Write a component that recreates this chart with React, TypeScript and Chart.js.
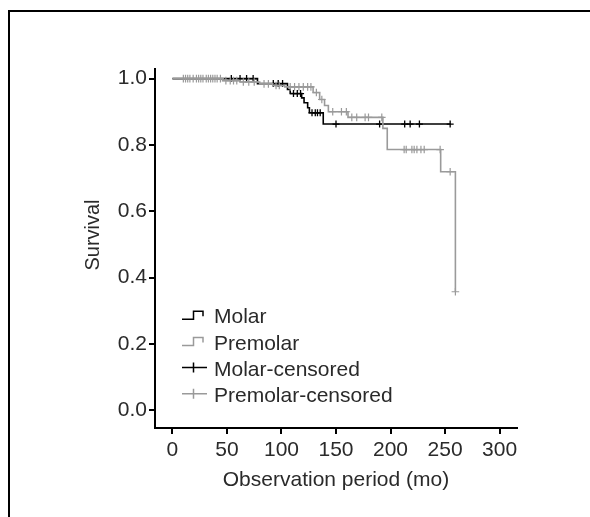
import React, { useEffect, useRef } from "react";
import Chart from "chart.js/auto";

// ---- data ----
const molarEventTimes = [0, 78, 105.5, 108, 118.5, 120.7, 124, 125.6, 138.3, 255];
const molarSurvival = [1.0, 0.985, 0.967, 0.955, 0.942, 0.927, 0.912, 0.897, 0.863, 0.863];
const molarCensored = [54, 62, 68, 74, 92.5, 97, 101, 111, 114.5, 117.5, 128, 131, 133, 135.5, 150, 190, 213, 218, 226.5, 254.7];

const premolarEventTimes = [0, 46, 62, 80, 92, 103, 129, 135, 139.5, 143, 161, 193, 197, 246, 259.5];
const premolarSurvival = [1.0, 0.994, 0.99, 0.984, 0.979, 0.975, 0.958, 0.937, 0.919, 0.9, 0.883, 0.85, 0.786, 0.719, 0.357];
const premolarCensored = [10, 12, 14, 16, 19, 22, 24, 26, 28, 31, 33, 35, 37, 39, 41, 44, 49, 53, 56, 59, 65, 70, 75, 84, 88, 95, 98, 108, 112, 116, 120, 124, 127, 132, 137, 147, 155, 159.5, 164.5, 169, 176.7, 179.8, 192, 212.5, 214.4, 219.6, 221.7, 224.2, 227.9, 230.9, 245.5, 254.7, 259.5];

const legendLabels = ["Molar", "Premolar", "Molar-censored", "Premolar-censored"];
const xTitle = "Observation period (mo)";
const yTitle = "Survival";

const BLACK = "#000000";
const GRAY = "#9a9a9a";
const TEXT = "#2a2a2a";
const FONT = "Liberation Sans, Arial, sans-serif";

function levelAt(times: number[], surv: number[], t: number) {
  let s = surv[0];
  for (let i = 0; i < times.length; i++) if (times[i] <= t) s = surv[i];
  return s;
}

const overlay = {
  id: "overlay",
  afterDraw(chart: any) {
    const ctx = chart.ctx as CanvasRenderingContext2D;
    const ca = chart.chartArea;
    ctx.save();
    // axis titles
    ctx.fillStyle = TEXT;
    ctx.font = `21px ${FONT}`;
    ctx.textAlign = "center";
    ctx.textBaseline = "middle";
    ctx.fillText(xTitle, (ca.left + ca.right) / 2, 472);
    ctx.save();
    ctx.translate(85, 227);
    ctx.rotate(-Math.PI / 2);
    ctx.font = `20px ${FONT}`;
    ctx.fillText(yTitle, 0, 0);
    ctx.restore();

    // legend
    const colors = [BLACK, GRAY, BLACK, GRAY];
    const baselines = [315.3, 341.5, 367.5, 393.7];
    const x0 = 174, x1 = 199, xm = 185.5;
    ctx.textAlign = "left";
    ctx.textBaseline = "alphabetic";
    ctx.font = `21px ${FONT}`;
    legendLabels.forEach((lab, i) => {
      const b = baselines[i];
      ctx.strokeStyle = colors[i];
      ctx.lineWidth = 1.5;
      ctx.beginPath();
      if (i < 2) {
        ctx.moveTo(x0, b - 4);
        ctx.lineTo(xm, b - 4);
        ctx.lineTo(xm, b - 12);
        ctx.lineTo(195, b - 12);
        ctx.lineTo(195, b - 7);
      } else {
        ctx.moveTo(x0, b - 8);
        ctx.lineTo(x1, b - 8);
        ctx.moveTo(xm, b - 13);
        ctx.lineTo(xm, b - 3);
      }
      ctx.stroke();
      ctx.fillStyle = TEXT;
      ctx.fillText(lab, 206, b);
    });
    ctx.restore();
  },
};

export default function App() {
  const ref = useRef<HTMLCanvasElement>(null);
  useEffect(() => {
    if (!ref.current) return;
    const lineData = (t: number[], s: number[]) => t.map((v, i) => ({ x: v, y: s[i] }));
    const censData = (c: number[], t: number[], s: number[]) => c.map((v) => ({ x: v, y: levelAt(t, s, v) }));
    const chart = new Chart(ref.current, {
      type: "scatter",
      data: {
        datasets: [
          {
            label: "Premolar",
            data: lineData(premolarEventTimes, premolarSurvival),
            showLine: true,
            stepped: true,
            borderColor: GRAY,
            borderWidth: 1.6,
            pointRadius: 0,
          },
          {
            label: "Premolar-censored",
            data: censData(premolarCensored, premolarEventTimes, premolarSurvival),
            showLine: false,
            pointStyle: "cross",
            pointRadius: 3.8,
            pointBorderWidth: 1.2,
            borderColor: GRAY,
            backgroundColor: GRAY,
          },
          {
            label: "Molar",
            data: lineData(molarEventTimes, molarSurvival),
            showLine: true,
            stepped: true,
            borderColor: BLACK,
            borderWidth: 1.6,
            pointRadius: 0,
          },
          {
            label: "Molar-censored",
            data: censData(molarCensored, molarEventTimes, molarSurvival),
            showLine: false,
            pointStyle: "cross",
            pointRadius: 3.5,
            pointBorderWidth: 1.3,
            borderColor: BLACK,
            backgroundColor: BLACK,
          },
        ],
      } as any,
      options: {
        animation: false,
        responsive: false,
        devicePixelRatio: 1,
        layout: { padding: { left: 87, top: 61, right: 73, bottom: 19 } },
        plugins: { legend: { display: false }, tooltip: { enabled: false } },
        scales: {
          x: {
            type: "linear",
            min: -16,
            max: 316,
            afterFit: (s: any) => { s.height = 62; },
            border: { display: true, color: BLACK, width: 2 },
            grid: { display: true, drawOnChartArea: false, drawTicks: true, tickLength: 6, color: BLACK, lineWidth: 2 },
            ticks: {
              stepSize: 50,
              includeBounds: false,
              autoSkip: false,
              maxRotation: 0,
              padding: 4,
              color: TEXT,
              font: { family: FONT, size: 21 },
              callback: (v: any) => String(v),
            },
          },
          y: {
            type: "linear",
            min: -0.054,
            max: 1.029,
            afterFit: (s: any) => { s.width = 60; },
            border: { display: true, color: BLACK, width: 2 },
            grid: { display: true, drawOnChartArea: false, drawTicks: true, tickLength: 6, color: BLACK, lineWidth: 2 },
            ticks: {
              stepSize: 0.2,
              includeBounds: false,
              padding: 2,
              color: TEXT,
              font: { family: FONT, size: 21 },
              callback: (v: any) => Number(v).toFixed(1),
            },
          },
        },
      } as any,
      plugins: [overlay],
    });
    return () => chart.destroy();
  }, []);

  return (
    <div style={{ position: "relative", width: 582, height: 501 }}>
      <canvas ref={ref} width={582} height={501} style={{ display: "block", width: 582, height: 501 }} />
      <div
        style={{
          position: "fixed",
          left: 8,
          top: 10,
          width: 582,
          height: 507,
          boxSizing: "border-box",
          borderTop: "2px solid #000",
          borderLeft: "2px solid #000",
          pointerEvents: "none",
        }}
      />
    </div>
  );
}
